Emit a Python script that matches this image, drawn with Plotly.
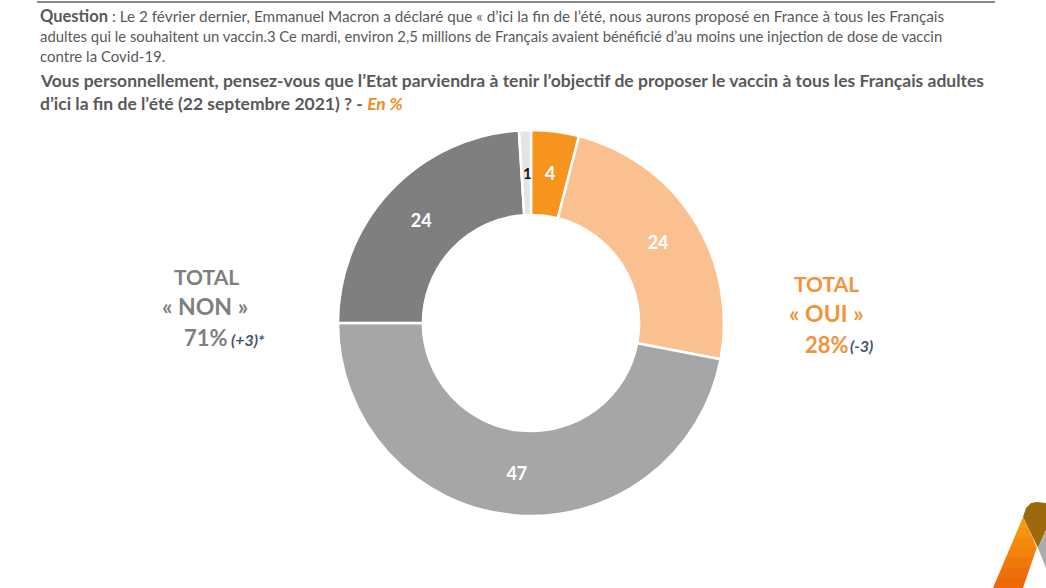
import plotly.graph_objects as go

labels = ["Oui, certainement", "Oui, probablement", "Non, probablement pas", "Non, certainement pas", "Ne se prononce pas"]
values = [4, 24, 47, 24, 1]
slice_colors = ["#F7941D", "#FBC08F", "#A6A6A6", "#7F7F7F", "#E4E4E4"]
text_colors = ["white", "white", "white", "white", "#1a1a1a"]
text_positions = ["none", "inside", "inside", "inside", "none"]

question_lines = [
    "<b><span style='font-size:16.5px'>Question</span></b> : Le 2 février dernier, Emmanuel Macron a déclaré que « d’ici la fin de l’été, nous aurons proposé en France à tous les Français",
    "adultes qui le souhaitent un vaccin.3 Ce mardi, environ 2,5 millions de Français avaient bénéficié d’au moins une injection de dose de vaccin",
    "contre la Covid-19.",
]
question_sizes = [15.3, 14.85, 15]
title_lines = [
    "<b>Vous personnellement, pensez-vous que l’Etat parviendra à tenir l’objectif de proposer le vaccin à tous les Français adultes</b>",
    "<b>d’ici la fin de l’été (22 septembre 2021) ? - </b><b><i><span style='color:#F28E1E'>En %</span></i></b>",
]

W, H = 1046, 588
GREY = "#595959"
FONT = "Lato"

fig = go.Figure(go.Pie(
    labels=labels,
    values=values,
    text=[str(v) for v in values],
    textinfo="text",
    textposition=text_positions,
    insidetextorientation="horizontal",
    textfont=dict(family=FONT, size=18, color=text_colors, weight="bold"),
    marker=dict(colors=slice_colors, line=dict(color="white", width=2.5)),
    hole=0.56,
    sort=False,
    direction="clockwise",
    rotation=0,
    domain=dict(x=[338 / W, 724 / W], y=[1 - 516 / H, 1 - 130 / H]),
    showlegend=False,
))


def add_text(x, y, text, size, color=GREY, anchor="left"):
    fig.add_annotation(
        x=x / W, y=1 - y / H, xref="paper", yref="paper",
        text=text, showarrow=False, xanchor=anchor, yanchor="middle",
        font=dict(family=FONT, size=size, color=color),
    )


for y, line, size in zip([16, 36, 56], question_lines, question_sizes):
    add_text(38, y, line, size)
for y, line in zip([81, 103], title_lines):
    add_text(38, y, line, 17.5)

# les deux petites tranches : plotly reduit ou decale leur texte
add_text(550, 173, f"<b>{values[0]}</b>", 18, "white", "center")
add_text(527, 173, f"<b>{values[4]}</b>", 15, "#1a1a1a", "center")

add_text(206, 276, "<b>TOTAL</b>", 21, "#7F7F7F", "center")
add_text(205, 306, "<b>« NON »</b>", 23, "#7F7F7F", "center")
add_text(182, 337, "<b>71%</b>", 22, "#7F7F7F")
add_text(229, 339, "<b><i>(+3)*</i></b>", 16, "#44546A")

add_text(826, 283, "<b>TOTAL</b>", 21, "#F2933A", "center")
add_text(826, 313, "<b>« OUI »</b>", 23, "#F2933A", "center")
add_text(803, 344, "<b>28%</b>", 22, "#F2933A")
add_text(848, 345, "<b><i>(-3)</i></b>", 16, "#44546A")

# filet du haut
fig.add_shape(type="line", xref="paper", yref="paper",
              x0=37 / W, x1=995 / W, y0=1 - 2 / H, y1=1 - 2 / H,
              line=dict(color="#8C8C8C", width=2))

# logo en bas a droite, degrade fait par bandes
bands = ["#F59A0C", "#F4930C", "#F38A0B", "#F1820B", "#EF790A", "#EE700A", "#EC690A"]
top, bottom = 517, 588
step = (bottom - top) / len(bands)
for i, col in enumerate(bands):
    y0 = top + i * step
    y1 = y0 + step + 0.5
    xl0 = 1023 - (y0 - 517) * 30 / 71
    xl1 = 1023 - (y1 - 517) * 30 / 71
    xr0 = min(1037, 1023 + (y0 - 517) * 14 / 30) if y0 < 547 else 1037 - (y0 - 547) * 14 / 41
    xr1 = min(1037, 1023 + (y1 - 517) * 14 / 30) if y1 < 547 else 1037 - (y1 - 547) * 14 / 41
    path = f"M {xl0 / W} {1 - y0 / H} L {xr0 / W} {1 - y0 / H} L {xr1 / W} {1 - y1 / H} L {xl1 / W} {1 - y1 / H} Z"
    fig.add_shape(type="path", xref="paper", yref="paper", path=path, fillcolor=col, line_width=0)

brown = [(1023, 517), (1026, 508), (1031, 503), (1037, 502), (1046, 503), (1046, 530), (1038, 548)]
grey = [(1046, 531), (1038, 548), (1046, 568)]
for pts, col in [(brown, "#9C6A0C"), (grey, "#ABABAB")]:
    path = "M " + " L ".join(f"{x / W} {1 - y / H}" for x, y in pts) + " Z"
    fig.add_shape(type="path", xref="paper", yref="paper", path=path, fillcolor=col, line_width=0)

fig.update_layout(
    width=W, height=H,
    margin=dict(l=0, r=0, t=0, b=0),
    paper_bgcolor="white",
    plot_bgcolor="white",
    font=dict(family=FONT, color=GREY),
)

# la page garde sinon une marge de 8 px autour de la figure
fig.write_html("out.html", config={"displayModeBar": False},
               post_script="document.body.style.margin='0';document.body.style.overflow='hidden';")
